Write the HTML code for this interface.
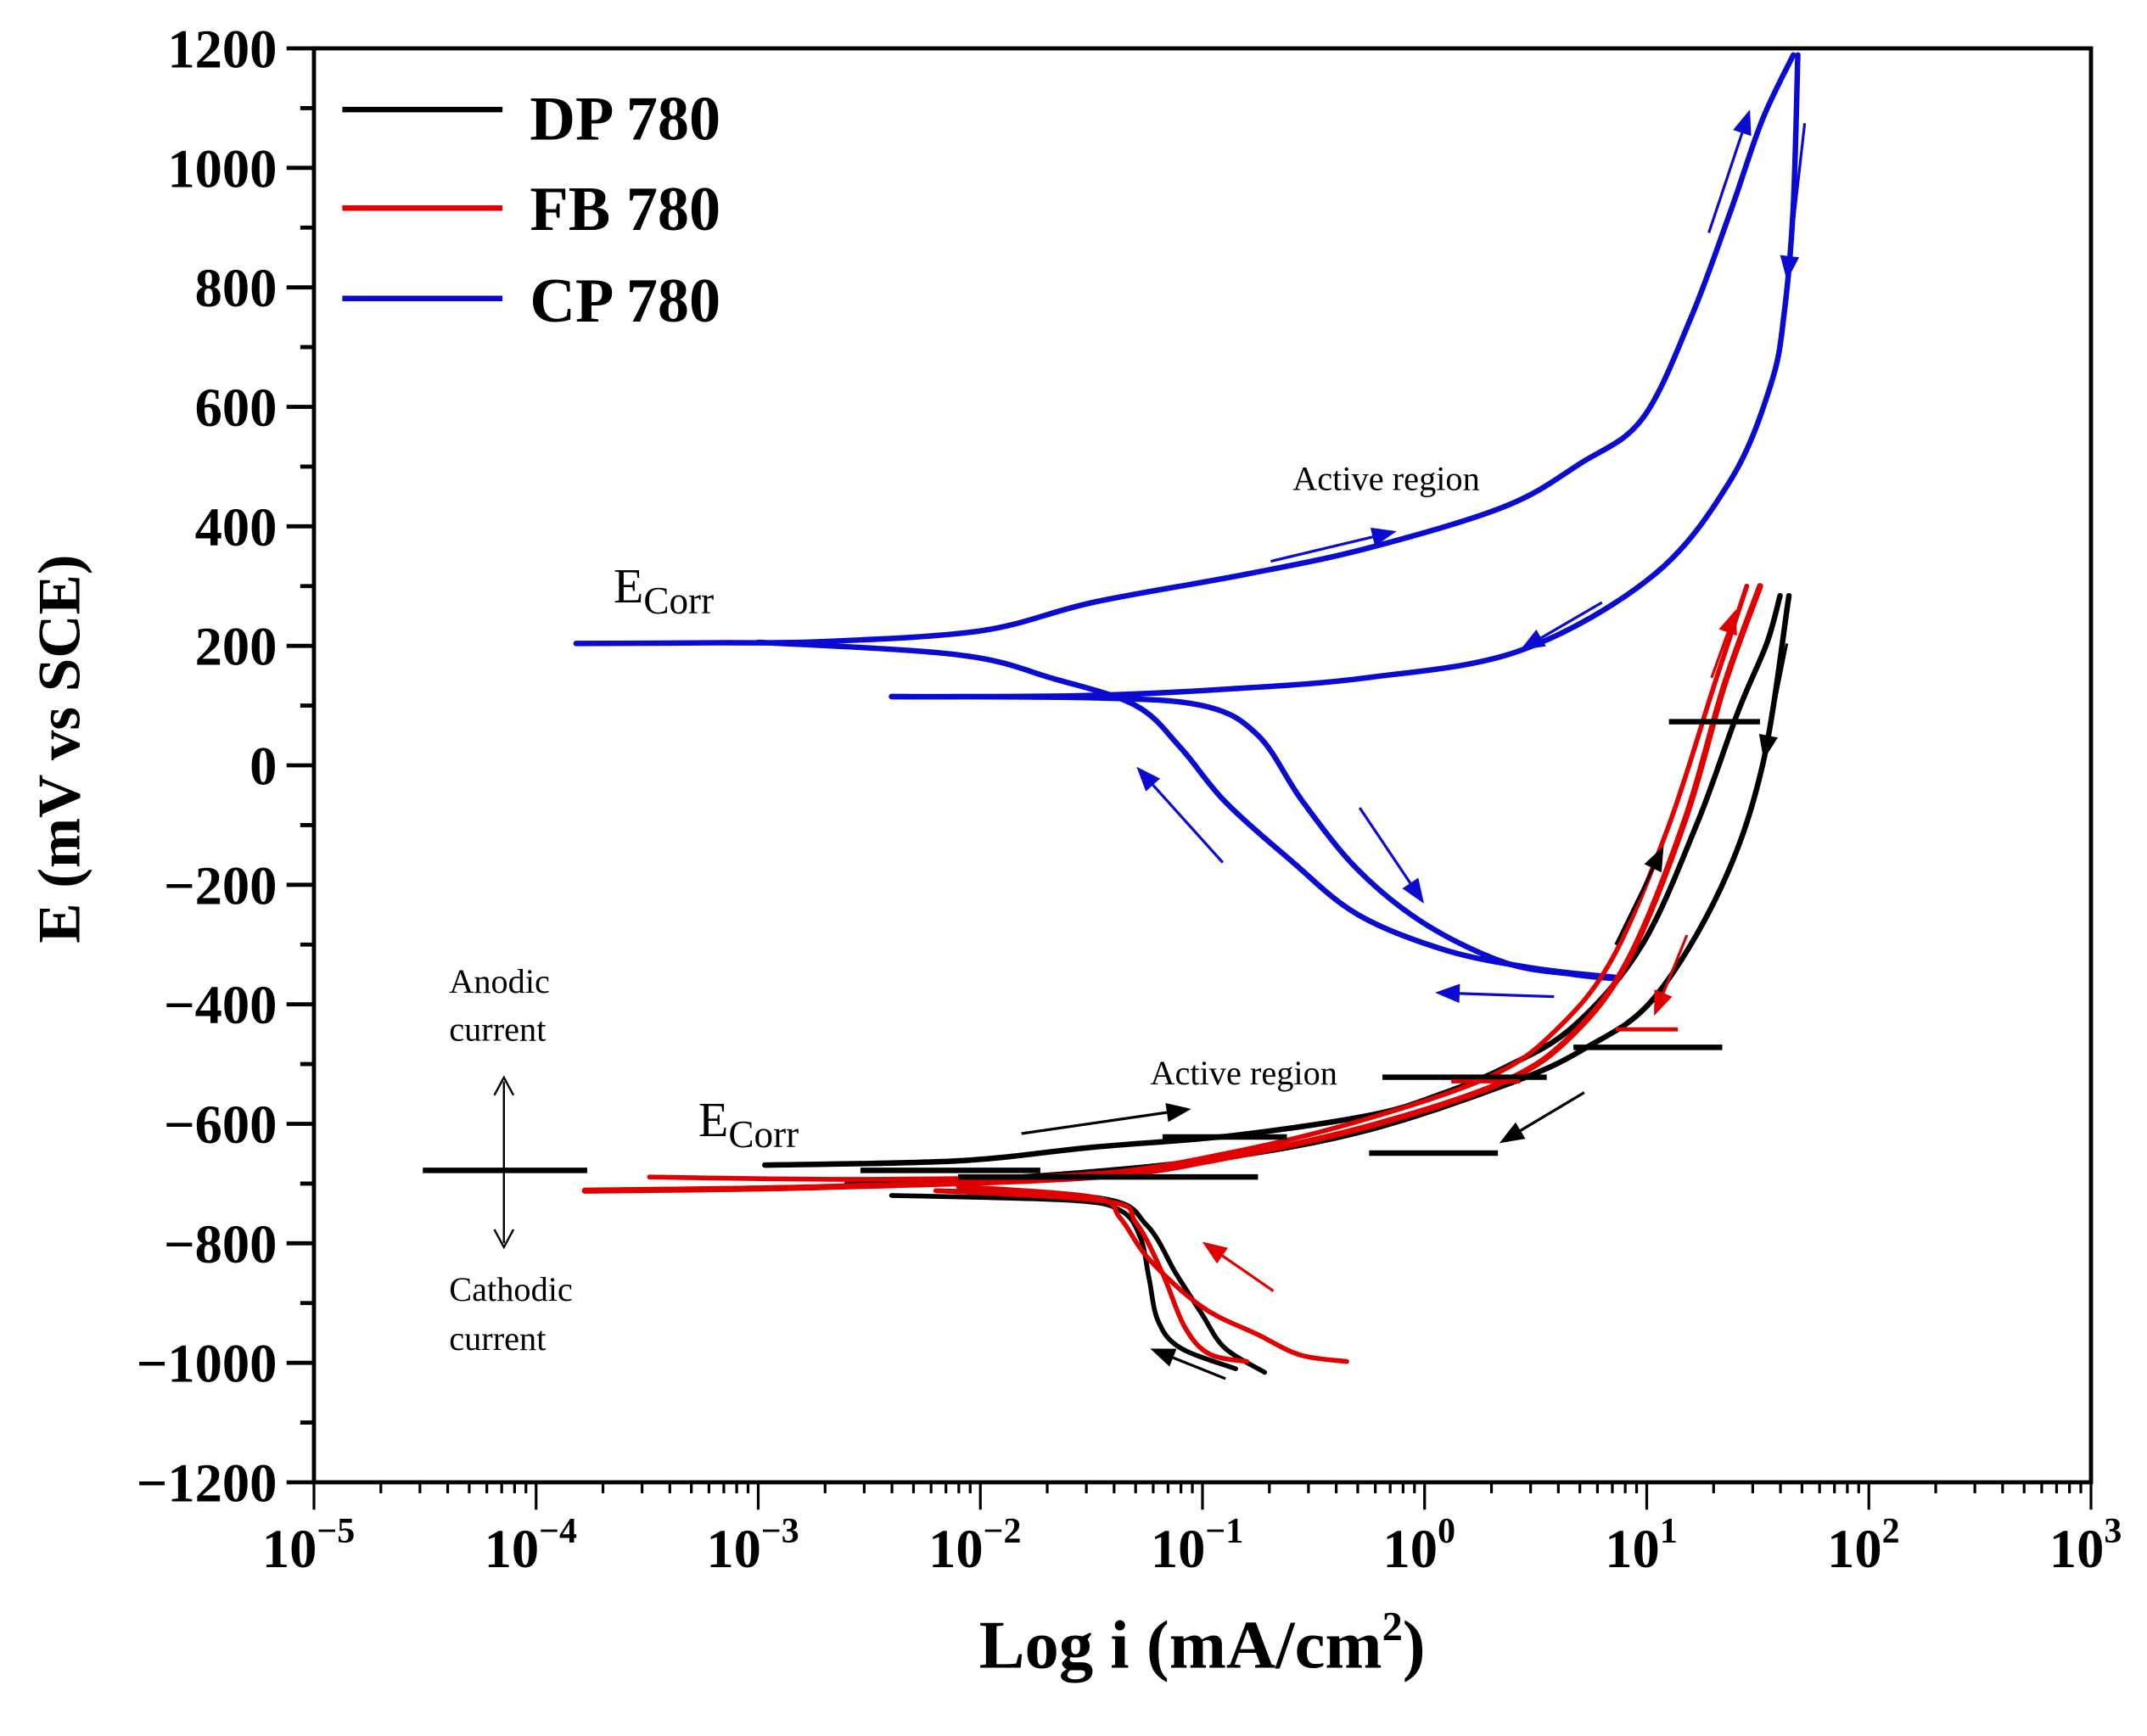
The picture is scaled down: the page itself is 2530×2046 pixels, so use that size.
<!DOCTYPE html>
<html><head><meta charset="utf-8"><style>
html,body{margin:0;padding:0;background:#fff;}
svg{display:block;}
text{font-family:"Liberation Serif",serif;}
</style></head><body>
<svg id="chart" width="2530" height="2046" viewBox="0 0 1568 1268" xmlns="http://www.w3.org/2000/svg">
<rect x="0" y="0" width="1568" height="1268" fill="#fff"/>
<g id="axes"></g>
<g id="series"></g>
<g id="notes"></g>
<g>
 <line x1="250" y1="80" x2="367" y2="80" stroke="#000" stroke-width="4"/>
 <text x="387" y="102" font-size="46" font-weight="bold">DP 780</text>
 <line x1="250" y1="152" x2="367" y2="152" stroke="#e00000" stroke-width="4"/>
 <text x="387" y="168" font-size="46" font-weight="bold">FB 780</text>
 <line x1="250" y1="218" x2="367" y2="218" stroke="#0a0ad0" stroke-width="4"/>
 <text x="387" y="235" font-size="46" font-weight="bold">CP 780</text>
</g>
<text transform="translate(58,547) rotate(-90)" text-anchor="middle" font-size="44" font-weight="bold">E (mV vs SCE)</text>
<text x="878" y="1218" text-anchor="middle" font-size="50" font-weight="bold">Log i (mA/cm<tspan dy="-20" font-size="30">2</tspan><tspan dy="20">)</tspan></text>
</svg>
<script>
// axis scales
const L=229.3,R=1527.1,T=35.3,B=1082.7;
const xMin=-5,xMax=3,yMin=-1200,yMax=1200;
function X(v){return L+(v-xMin)*(R-L)/(xMax-xMin);}
function Y(v){return B-(v-yMin)*(B-T)/(yMax-yMin);}

// tick data
const yTickValues=[-1200,-1000,-800,-600,-400,-200,0,200,400,600,800,1000,1200];
const yTickLabels=["\u22121200","\u22121000","\u2212800","\u2212600","\u2212400","\u2212200","0","200","400","600","800","1000","1200"];
const xTickExps=[-5,-4,-3,-2,-1,0,1,2,3];
const xTickLabels=["\u22125","\u22124","\u22123","\u22122","\u22121","0","1","2","3"];

// series data (log10 i, E mV)
const cpFwdX=[-3.82,-3.2,-2.72,-2.0,-1.49,-0.8,-0.25,0.36,0.7,0.98,1.2,1.38,1.52,1.66];
const cpFwdY=[204,205,207,225,273,320,364,433,505,580,750,930,1080,1189];
const cpRevX=[1.68,1.66,1.62,1.56,1.38,1.03,0.43,-0.25,-0.87,-1.49,-2.1,-2.4];
const cpRevY=[1189,937,760,639,479,318,192,147,128,117,115,115];
const cpCat1X=[-2.4,-1.5,-1.0,-0.75,-0.55,-0.3,0.0,0.36,0.67,0.86];
const cpCat1Y=[115,113,100,50,-60,-175,-265,-330,-350,-357];
const cpCat2X=[-3.0,-2.1,-1.67,-1.3,-1.1,-0.9,-0.6,-0.3,0.1,0.5,0.86];
const cpCat2Y=[206,185,145,100,30,-60,-160,-250,-310,-340,-355];

const dpAnX=[-2.97,-2.1,-1.49,-0.87,-0.25,0.06,0.36,0.67,0.98,1.23,1.41,1.54,1.60];
const dpAnY=[-669,-662,-639,-620,-586,-552,-506,-437,-300,-94,89,204,284];
const dpRevX=[1.64,1.52,1.33,1.03,0.73,0.40,-0.25,-0.87,-1.49,-2.1,-2.6];
const dpRevY=[284,-2,-208,-391,-472,-530,-610,-655,-680,-695,-700];
const dpCatAX=[-2.4,-1.6,-1.37,-1.28,-1.24,-1.2,-1.1,-0.85];
const dpCatAY=[-720,-728,-745,-790,-860,-930,-975,-1010];
const dpCatBX=[-2.2,-1.45,-1.25,-1.12,-1.0,-0.9,-0.72];
const dpCatBY=[-712,-725,-770,-850,-920,-975,-1016];

const fbAnX=[-3.78,-2.72,-1.49,-0.87,-0.25,0.36,0.67,0.92,1.17,1.35,1.51];
const fbAnY=[-712,-706,-689,-655,-604,-529,-449,-323,-94,135,300];
const fbAn2X=[-3.49,-2.5,-1.5,-0.9,-0.3,0.3,0.6,0.85,1.1,1.3,1.45];
const fbAn2Y=[-689,-693,-684,-650,-596,-520,-440,-320,-100,130,300];
const fbCatAX=[-2.1,-1.49,-1.37,-1.24,-1.0,-0.75,-0.56,-0.35];
const fbCatAY=[-705,-723,-758,-827,-907,-953,-987,-998];
const fbCatBX=[-2.2,-1.43,-1.3,-1.18,-1.08,-0.97,-0.8];
const fbCatBY=[-712,-730,-765,-850,-940,-985,-998];

// flat segments: start log, end log, E
const dpSegStart=[-0.19,0.67,-1.18,-0.25,-2.54,-2.1,1.10,-4.51];
const dpSegEnd=[0.55,1.34,-0.62,0.33,-1.73,-0.75,1.51,-3.77];
const dpSegE=[-522,-472,-622,-649,-678,-689,73,-678];
const fbSegStart=[0.86,0.12];
const fbSegEnd=[1.14,0.43];
const fbSegE=[-442,-529];

const NS="http://www.w3.org/2000/svg";
function mk(tag,attrs,parent){const e=document.createElementNS(NS,tag);for(const k in attrs)e.setAttribute(k,attrs[k]);parent.appendChild(e);return e;}
const axes=document.getElementById('axes');
const series=document.getElementById('series');
const notes=document.getElementById('notes');

const frame=mk('rect',{x:L,y:T,width:R-L,height:B-T,fill:'none',stroke:'#000','stroke-width':3},axes);



for(let i=0;i<yTickValues.length;i++){
  const v=yTickValues[i];
  const t=mk('line',{x1:L-20,x2:L,y1:Y(v),y2:Y(v),stroke:'#000','stroke-width':3},axes);
  
  
  const lb=mk('text',{x:L-27,y:Y(v)+14,'text-anchor':'end','font-size':40,'font-weight':'bold'},axes);
  lb.textContent=yTickLabels[i];
  
  
  if(i<yTickValues.length-1){
    const m=mk('line',{x1:L-10,x2:L,y1:Y(v+100),y2:Y(v+100),stroke:'#000','stroke-width':3},axes);
    
    
  }
}
for(let i=0;i<xTickExps.length;i++){
  const e=xTickExps[i];
  const t=mk('line',{x1:X(e),x2:X(e),y1:B,y2:B+20,stroke:'#000','stroke-width':2},axes);
  
  
  const lb=mk('text',{x:X(e)-4,y:B+62,'text-anchor':'middle','font-size':40,'font-weight':'bold'},axes);
  
  
  lb.textContent='10';
  const sp=mk('tspan',{dy:-18,'font-size':26},lb);
  sp.textContent=xTickLabels[i];
  if(i<xTickExps.length-1){
    for(let k=2;k<=9;k++){
      const xx=X(e+Math.log10(k));
      const m=mk('line',{x1:xx,x2:xx,y1:B,y2:B+8,stroke:'#000','stroke-width':2},axes);
      
      
    }
  }
}

function smooth(xs,ys){
  const p=xs.map((v,i)=>[X(v),Y(ys[i])]);
  let d='M'+p[0][0].toFixed(1)+','+p[0][1].toFixed(1);
  for(let i=0;i<p.length-1;i++){
    const p0=p[Math.max(0,i-1)],p1=p[i],p2=p[i+1],p3=p[Math.min(p.length-1,i+2)];
    const c1=[p1[0]+(p2[0]-p0[0])/6,p1[1]+(p2[1]-p0[1])/6];
    const c2=[p2[0]-(p3[0]-p1[0])/6,p2[1]-(p3[1]-p1[1])/6];
    d+=' C'+c1[0].toFixed(1)+','+c1[1].toFixed(1)+' '+c2[0].toFixed(1)+','+c2[1].toFixed(1)+' '+p2[0].toFixed(1)+','+p2[1].toFixed(1);
  }
  return d;
}
function curve(xs,ys,color,name,w){
  const el=mk('path',{d:smooth(xs,ys),fill:'none',stroke:color,'stroke-width':w||4,'stroke-linecap':'round','stroke-linejoin':'round'},series);
  
  
}
const BLUE='#0a0ad0',RED='#e00000',BLK='#000';
curve(cpFwdX,cpFwdY,BLUE,'cp780-anodic-forward');
curve(cpRevX,cpRevY,BLUE,'cp780-reverse');
curve(cpCat1X,cpCat1Y,BLUE,'cp780-cathodic-1');
curve(cpCat2X,cpCat2Y,BLUE,'cp780-cathodic-2');
curve(dpAnX,dpAnY,BLK,'dp780-anodic');
curve(dpRevX,dpRevY,BLK,'dp780-reverse');
curve(dpCatAX,dpCatAY,BLK,'dp780-cathodic-a',3.5);
curve(dpCatBX,dpCatBY,BLK,'dp780-cathodic-b',3.5);
curve(fbAnX,fbAnY,RED,'fb780-anodic',4.5);
curve(fbAn2X,fbAn2Y,RED,'fb780-anodic-2',3.5);
curve(fbCatAX,fbCatAY,RED,'fb780-cathodic-a',3.5);
curve(fbCatBX,fbCatBY,RED,'fb780-cathodic-b',3.5);
for(let i=0;i<dpSegE.length;i++){
  const s=mk('line',{x1:X(dpSegStart[i]),x2:X(dpSegEnd[i]),y1:Y(dpSegE[i]),y2:Y(dpSegE[i]),stroke:BLK,'stroke-width':4},series);
  
  
}
for(let i=0;i<fbSegE.length;i++){
  const s=mk('line',{x1:X(fbSegStart[i]),x2:X(fbSegEnd[i]),y1:Y(fbSegE[i]),y2:Y(fbSegE[i]),stroke:RED,'stroke-width':3},series);
  
  
}

const arrowColors=['b','b','b','b','b','b','b','k','k','k','k','k','r','r','r'];
const arrowFrom=[[928,410],[1170,440],[1248,170],[1318,90],[993,590],[893,630],[1135,728],[746,828],[1180,690],[1157,798],[1305,470],[895,1007],[930,943],[1232,683],[1250,495]];
const arrowTo=[[1020,388],[1110,475],[1278,80],[1305,205],[1040,660],[830,560],[1048,725],[870,810],[1215,618],[1095,835],[1288,555],[840,985],[878,907],[1208,742],[1268,445]];
const cmap={b:BLUE,k:BLK,r:RED};
for(let i=0;i<arrowFrom.length;i++){
  const [x1,y1]=arrowFrom[i],[x2,y2]=arrowTo[i];const c=cmap[arrowColors[i]];
  const g=mk('g',{},notes);
  
  
  const dx=x2-x1,dy=y2-y1,len=Math.hypot(dx,dy),ux=dx/len,uy=dy/len;
  const hl=18,hw=7;
  mk('line',{x1:x1,y1:y1,x2:x2-ux*hl,y2:y2-uy*hl,stroke:c,'stroke-width':2},g);
  const bx=x2-ux*hl,by=y2-uy*hl;
  mk('polygon',{points:`${x2},${y2} ${bx-uy*hw},${by+ux*hw} ${bx+uy*hw},${by-ux*hw}`,fill:c},g);
}
const da=mk('g',{},notes);


mk('line',{x1:368,y1:790,x2:368,y2:908,stroke:'#000','stroke-width':1.5},da);
mk('polyline',{points:'361,800 368,787 375,800',fill:'none',stroke:'#000','stroke-width':1.5},da);
mk('polyline',{points:'361,898 368,911 375,898',fill:'none',stroke:'#000','stroke-width':1.5},da);

function txt(x,y,s,size,name,fam){
  const t=mk('text',{x:x,y:y,'font-size':size},notes);
  if(fam)t.setAttribute('font-family',fam);
  t.textContent=s;
  
  
  return t;
}
txt(944,358,'Active region',25,'active-region-label-cp');
txt(840,792,'Active region',25,'active-region-label-dp');
txt(328,725,'Anodic',25,'anodic-label');
txt(328,760,'current',25,'anodic-current-label');
txt(328,950,'Cathodic',25,'cathodic-label');
txt(328,986,'current',25,'cathodic-current-label');
const e1=txt(448,440,'E',36,'ecorr-label-cp','"Liberation Mono",monospace');
const s1=mk('tspan',{dy:8,'font-size':28},e1);s1.textContent='Corr';
const e2=txt(510,830,'E',36,'ecorr-label-dp','"Liberation Mono",monospace');
const s2=mk('tspan',{dy:8,'font-size':28},e2);s2.textContent='Corr';
</script>
</body></html>
